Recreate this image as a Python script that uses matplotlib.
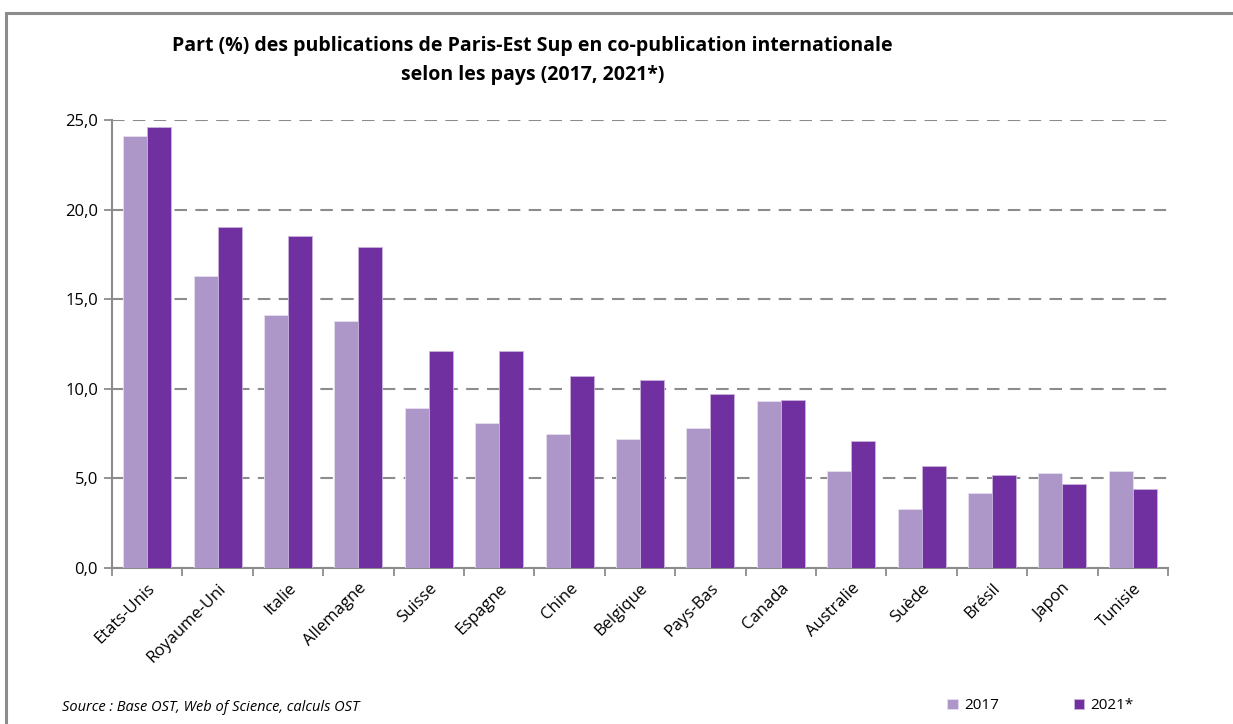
import numpy as np
import matplotlib.pyplot as plt
from matplotlib.patches import Rectangle
from matplotlib.ticker import FuncFormatter

pays = ['Etats-Unis', 'Royaume-Uni', 'Italie', 'Allemagne', 'Suisse', 'Espagne',
        'Chine', 'Belgique', 'Pays-Bas', 'Canada', 'Australie', 'Suède',
        'Brésil', 'Japon', 'Tunisie']
part_2017 = [24.1, 16.3, 14.1, 13.8, 8.9, 8.1, 7.5, 7.2, 7.8, 9.3, 5.4, 3.3, 4.2, 5.3, 5.4]
part_2021 = [24.6, 19.0, 18.5, 17.9, 12.1, 12.1, 10.7, 10.5, 9.7, 9.4, 7.1, 5.7, 5.2, 4.7, 4.4]

col_2017 = '#ac97c8'
col_2021 = '#7030a0'
gris = '#8c8c8c'

plt.rcParams['font.family'] = ['Open Sans', 'DejaVu Sans']

fig = plt.figure(figsize=(12.33, 7.24), dpi=100)
ax = fig.add_axes([0.0908, 0.2155, 0.8565, 0.6188])

x = np.arange(len(pays))
w = 0.34
ax.bar(x - w / 2, part_2017, w, color=col_2017, edgecolor='#e6dff0', linewidth=0.6, zorder=3, label='2017')
ax.bar(x + w / 2, part_2021, w, color=col_2021, edgecolor='#c9b3dc', linewidth=0.6, zorder=3, label='2021*')

ax.set_xlim(-0.5, len(pays) - 0.5)
ax.set_ylim(0, 25)
ax.set_yticks(np.arange(0, 25.1, 5))
ax.yaxis.set_major_formatter(FuncFormatter(lambda v, p: f'{v:.1f}'.replace('.', ',')))
ax.yaxis.grid(True, linestyle=(0, (6, 4)), color=gris, linewidth=1.5, zorder=0)

ax.set_xticks(x)
ax.set_xticklabels(pays, rotation=45, ha='right', rotation_mode='anchor', fontsize=12)
ax.set_xticks(np.arange(-0.5, len(pays)), minor=True)
ax.tick_params(axis='x', which='major', length=0, pad=9)
ax.tick_params(axis='x', which='minor', length=6, width=1.3, color=gris, direction='out')
ax.tick_params(axis='y', length=6, width=1.3, color=gris, labelsize=12, pad=4)

for s in ['top', 'right']:
    ax.spines[s].set_visible(False)
for s in ['left', 'bottom']:
    ax.spines[s].set_color(gris)
    ax.spines[s].set_linewidth(1.5)

fig.text(0.432, 0.936, 'Part (%) des publications de Paris-Est Sup en co-publication internationale',
         ha='center', va='center', fontsize=14, fontweight='bold')
fig.text(0.432, 0.897, 'selon les pays (2017, 2021*)',
         ha='center', va='center', fontsize=14, fontweight='bold')

fig.text(0.05, 0.023, 'Source : Base OST, Web of Science, calculs OST', ha='left', va='center',
         fontsize=10.5, style='italic')

leg = fig.legend(loc='center left', bbox_to_anchor=(0.757, 0.025), ncol=2, frameon=False,
                 fontsize=11, handlelength=0.7, handleheight=0.7, handletextpad=0.4,
                 columnspacing=4.9)

fig.add_artist(Rectangle((0.0045, -0.05), 1.1, 1.032, transform=fig.transFigure,
                         fill=False, edgecolor=gris, linewidth=2.2))

fig.savefig('out.png', dpi=100)
